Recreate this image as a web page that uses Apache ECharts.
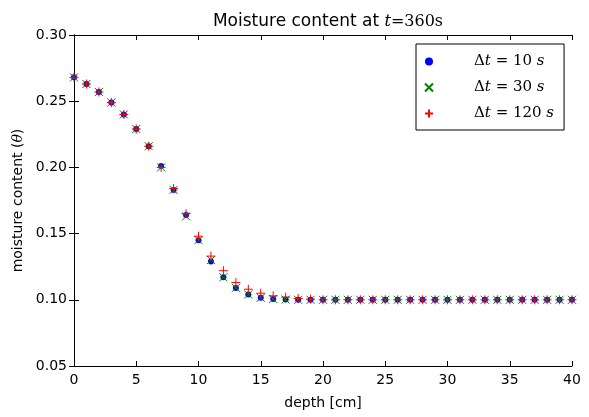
<!DOCTYPE html>
<html>
<head>
<meta charset="utf-8">
<script src="https://cdn.jsdelivr.net/npm/echarts@6/dist/echarts.min.js"></script>
<style>
  html, body { margin: 0; padding: 0; background: #fff; }
  #chart { width: 589px; height: 417px; }
</style>
</head>
<body>
<div id="chart"></div>
<script>
var depth = [0,1,2,3,4,5,6,7,8,9,10,11,12,13,14,15,16,17,18,19,20,
             21,22,23,24,25,26,27,28,29,30,31,32,33,34,35,36,37,38,39,40];

var dt10 = [0.268,0.263,0.257,0.249,0.240,0.229,0.216,0.201,0.183,0.164,0.145,
            0.129,0.117,0.109,0.104,0.1015,0.1006,0.1002,0.1,0.1,0.1,
            0.1,0.1,0.1,0.1,0.1,0.1,0.1,0.1,0.1,0.1,
            0.1,0.1,0.1,0.1,0.1,0.1,0.1,0.1,0.1,0.1];
var dt30 = [0.268,0.263,0.257,0.249,0.240,0.229,0.216,0.200,0.183,0.163,0.145,
            0.130,0.117,0.109,0.104,0.1015,0.1006,0.1002,0.1,0.1,0.1,
            0.1,0.1,0.1,0.1,0.1,0.1,0.1,0.1,0.1,0.1,
            0.1,0.1,0.1,0.1,0.1,0.1,0.1,0.1,0.1,0.1];
var dt120 = [0.268,0.263,0.257,0.249,0.240,0.229,0.216,0.200,0.184,0.165,0.148,
             0.133,0.122,0.113,0.108,0.105,0.103,0.102,0.101,0.1005,0.1,
             0.1,0.1,0.1,0.1,0.1,0.1,0.1,0.1,0.1,0.1,
             0.1,0.1,0.1,0.1,0.1,0.1,0.1,0.1,0.1,0.1];

var seriesNames = ['dt10', 'dt30', 'dt120'];
var legendLabels = {dt10: '10', dt30: '30', dt120: '120'};

function pairs(ys) {
    return depth.map(function (d, i) { return [d, ys[i]]; });
}

var chart = echarts.init(document.getElementById('chart'));

var sans = 'DejaVu Sans';
var serif = 'DejaVu Serif';

var axisCommon = {
    axisLine: { show: true, lineStyle: { color: '#000', width: 1 } },
    axisTick: { show: true, inside: true, length: 5, lineStyle: { color: '#000' } },
    splitLine: { show: false }
};

var option = {
    animation: false,
    backgroundColor: '#fff',
    title: {
        text: 'Moisture content at {i|t}{m|=360s}',
        left: 323,
        top: 8,
        textAlign: 'center',
        textStyle: {
            fontFamily: sans, fontSize: 17, fontWeight: 'normal', color: '#000',
            rich: {
                i: { fontFamily: serif, fontStyle: 'italic', fontSize: 16, color: '#000' },
                m: { fontFamily: serif, fontSize: 16, color: '#000' }
            }
        }
    },
    grid: { left: 74, right: 17, top: 35, bottom: 51 },
    legend: {
        orient: 'vertical',
        left: 416,
        top: 44,
        padding: [10, 10, 9, 8],
        itemGap: 11,
        itemWidth: 34,
        itemHeight: 8,
        borderColor: '#000',
        borderWidth: 1,
        borderRadius: 0,
        data: seriesNames,
        formatter: function (name) {
            return '{m|\u0394}{i|t}{m| = ' + legendLabels[name] + ' }{i|s}';
        },
        textStyle: {
            padding: [0, 0, 0, 23],
            rich: {
                i: { fontFamily: serif, fontStyle: 'italic', fontSize: 15, color: '#000', height: 17 },
                m: { fontFamily: serif, fontSize: 15, color: '#000', height: 17 }
            }
        }
    },
    xAxis: [
        Object.assign({
            type: 'value', min: 0, max: 40, interval: 5, position: 'bottom',
            name: 'depth [cm]', nameLocation: 'middle', nameGap: 30,
            nameTextStyle: { fontFamily: sans, fontSize: 14, color: '#000' },
            axisLabel: { margin: 7, fontFamily: sans, fontSize: 14, color: '#000' }
        }, axisCommon),
        Object.assign({
            type: 'value', min: 0, max: 40, interval: 5, position: 'top',
            axisLabel: { show: false }
        }, axisCommon)
    ],
    yAxis: [
        Object.assign({
            type: 'value', min: 0.05, max: 0.30, interval: 0.05, position: 'left',
            name: 'moisture content ({i|\u03b8})', nameLocation: 'middle', nameGap: 44,
            nameTextStyle: {
                fontFamily: sans, fontSize: 14, color: '#000',
                rich: { i: { fontFamily: serif, fontStyle: 'italic', fontSize: 14, color: '#000' } }
            },
            axisLabel: {
                margin: 7, fontFamily: sans, fontSize: 14, color: '#000',
                formatter: function (v) { return v.toFixed(2); }
            }
        }, axisCommon),
        Object.assign({
            type: 'value', min: 0.05, max: 0.30, interval: 0.05, position: 'right',
            axisLabel: { show: false }
        }, axisCommon)
    ],
    series: [
        {
            name: 'dt10', type: 'scatter', data: pairs(dt10),
            symbol: 'circle', symbolSize: 6,
            itemStyle: { color: '#0000ff', opacity: 1 }
        },
        {
            name: 'dt30', type: 'scatter', data: pairs(dt30),
            symbol: 'path://M0,0L10,10M10,0L0,10', symbolSize: 8,
            itemStyle: { color: 'rgba(0,0,0,0)', borderColor: '#008000', borderWidth: 1, opacity: 1 }
        },
        {
            name: 'dt120', type: 'scatter', data: pairs(dt120),
            symbol: 'path://M5,0L5,10M0,5L10,5', symbolSize: 9,
            itemStyle: { color: 'rgba(0,0,0,0)', borderColor: '#ff0000', borderWidth: 1, opacity: 1 }
        }
    ]
};

chart.setOption(option);
window.addEventListener('resize', function () {
    chart.resize();
});
</script>
</body>
</html>
